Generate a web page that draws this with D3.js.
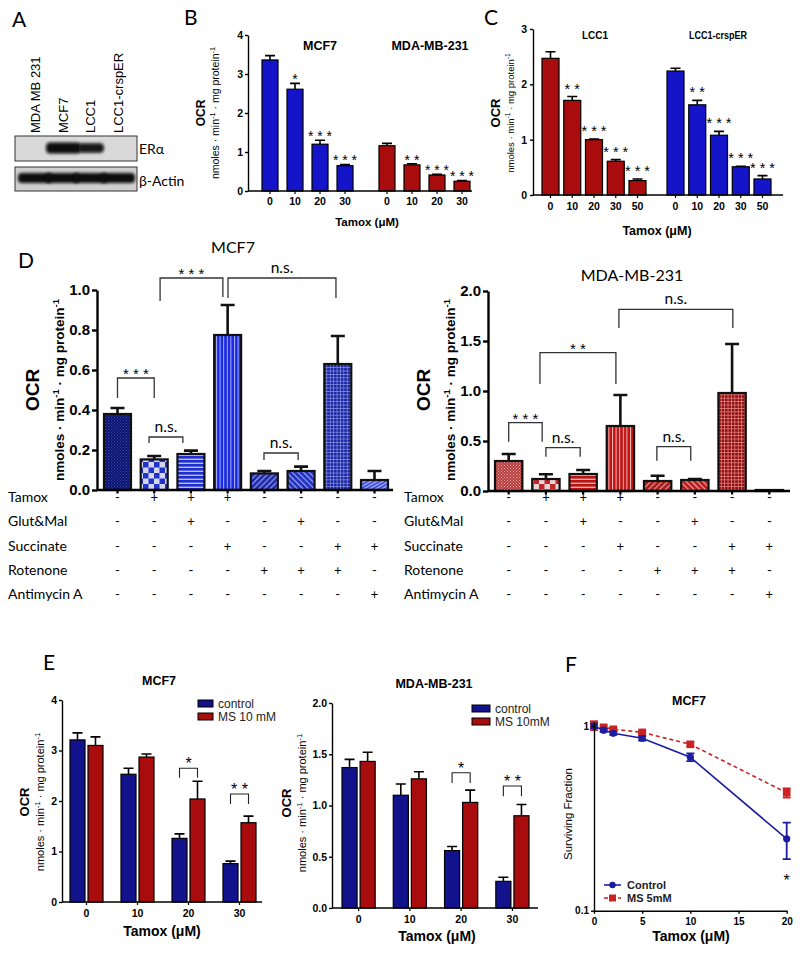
<!DOCTYPE html>
<html>
<head>
<meta charset="utf-8">
<script src="https://cdn.jsdelivr.net/npm/d3@7"></script>
<style>
  body { margin: 0; background: #fff; }
</style>
</head>
<body>
<script>
// ---------- data ----------
const blotLanes = ['MDA MB 231', 'MCF7', 'LCC1', 'LCC1-crspER'];
const erBand = [0, 1, 0.75, 0];
const actinBand = [0.9, 0.95, 0.9, 0.85];

const bLines = ['MCF7', 'MDA-MB-231'];
const bDoses = ['0', '10', '20', '30'];
const bMean = [[3.36, 2.61, 1.20, 0.65], [1.16, 0.67, 0.41, 0.25]];
const bErr = [[0.11, 0.15, 0.10, 0.03], [0.06, 0.03, 0.02, 0.02]];
const bStars = [['', '*', '***', '***'], ['', '**', '***', '***']];

const cLines = ['LCC1', 'LCC1-crspER'];
const cDoses = ['0', '10', '20', '30', '50'];
const cMean = [[2.47, 1.71, 1.00, 0.61, 0.26], [2.24, 1.63, 1.08, 0.51, 0.29]];
const cErr = [[0.12, 0.07, 0.01, 0.03, 0.03], [0.05, 0.08, 0.07, 0.01, 0.06]];
const cStars = [['', '**', '***', '***', '***'], ['', '**', '***', '***', '***']];

const dConds = ['c1', 'c2', 'c3', 'c4', 'c5', 'c6', 'c7', 'c8'];
const dRows = ['Tamox', 'Glut&Mal', 'Succinate', 'Rotenone', 'Antimycin A'];
const dSigns = [
  ['-', '+', '+', '+', '-', '-', '-', '-'],
  ['-', '-', '+', '-', '-', '+', '-', '-'],
  ['-', '-', '-', '+', '-', '-', '+', '+'],
  ['-', '-', '-', '-', '+', '+', '+', '-'],
  ['-', '-', '-', '-', '-', '-', '-', '+']
];
const dMcfMean = [0.38, 0.153, 0.18, 0.775, 0.083, 0.095, 0.63, 0.05];
const dMcfErr = [0.03, 0.017, 0.017, 0.15, 0.012, 0.022, 0.14, 0.045];
const dMdaMean = [0.30, 0.12, 0.17, 0.65, 0.10, 0.11, 0.98, 0.01];
const dMdaErr = [0.07, 0.047, 0.04, 0.31, 0.053, 0.01, 0.49, 0];
// [from bar, to bar, top, left leg end, right leg end, label]
const dMcfBrackets = [
  [0, 1, 0.56, 0.46, 0.46, '***'],
  [0.86, 1.78, 0.265, 0.235, 0.235, 'n.s.'],
  [1.16, 2.87, 1.06, 0.945, 0.965, '***'],
  [3.01, 5.95, 1.06, 0.96, 0.96, 'n.s.'],
  [3.99, 4.92, 0.185, 0.15, 0.15, 'n.s.']
];
const dMdaBrackets = [
  [0, 0.9, 0.683, 0.493, 0.493, '***'],
  [1.0, 1.92, 0.433, 0.343, 0.343, 'n.s.'],
  [0.84, 2.88, 1.383, 1.07, 1.07, '**'],
  [2.96, 6.02, 1.817, 1.63, 1.63, 'n.s.'],
  [3.98, 4.89, 0.443, 0.303, 0.303, 'n.s.']
];

const eDoses = ['0', '10', '20', '30'];
const eConds = ['control', 'MS'];
const eMcfMean = [[3.21, 3.10], [2.53, 2.87], [1.26, 2.04], [0.76, 1.57]];
const eMcfErr = [[0.14, 0.17], [0.12, 0.06], [0.09, 0.35], [0.05, 0.13]];
const eMcfSig = [{dose: '20', top: 2.65, leg: 2.46, label: '*'}, {dose: '30', top: 2.14, leg: 1.94, label: '**'}];
const eMdaMean = [[1.37, 1.43], [1.10, 1.26], [0.56, 1.03], [0.26, 0.90]];
const eMdaErr = [[0.08, 0.09], [0.11, 0.07], [0.04, 0.12], [0.04, 0.11]];
const eMdaSig = [{dose: '20', top: 1.32, leg: 1.22, label: '*'}, {dose: '30', top: 1.19, leg: 1.09, label: '**'}];

const fDose = [0, 1, 2, 5, 10, 20];
const fCtrl = [1.0, 0.95, 0.913, 0.858, 0.677, 0.245];
const fCtrlLo = [0.97, 0.93, 0.895, 0.835, 0.645, 0.19];
const fCtrlHi = [1.03, 0.97, 0.93, 0.88, 0.71, 0.30];
const fMs = [1.02, 0.984, 0.96, 0.924, 0.796, 0.435];
const fMsLo = [0.95, 0.965, 0.94, 0.905, 0.775, 0.41];
const fMsHi = [1.06, 1.005, 0.98, 0.945, 0.82, 0.46];

// ---------- setup ----------
const AR = '"Liberation Sans", Arial, sans-serif';
const CAL = 'Lato, "Open Sans", sans-serif';
const BLUE = '#1414c8', RED = '#a80c0c', NAVY = '#12128c';

const svg = d3.select('body').append('svg')
    .attr('width', 800)
    .attr('height', 953)
    .style('background', '#fff');
const defs = svg.append('defs');

function letter(t, x, y) {
  svg.append('text').attr('x', x).attr('y', y)
      .attr('font-family', CAL).attr('font-size', 21).text(t);
}

function styleAxis(a, size, weight, sw) {
  a.attr('font-family', AR).attr('font-size', size).attr('font-weight', weight);
  a.selectAll('line').attr('stroke', '#000').attr('stroke-width', sw);
  a.selectAll('path').attr('stroke', '#000').attr('stroke-width', sw);
  a.selectAll('text').attr('fill', '#000');
}

// rotated OCR label + unit line with superscripts
function ocrLabel(o) {
  svg.append('text')
      .attr('transform', `translate(${o.x1},${o.yc}) rotate(-90)`)
      .attr('text-anchor', 'middle').attr('font-family', AR)
      .attr('font-size', o.s1).attr('font-weight', 'bold').text('OCR');
  const t2 = svg.append('text')
      .attr('transform', `translate(${o.x2},${o.yc}) rotate(-90)`)
      .attr('text-anchor', 'middle').attr('font-family', AR)
      .attr('font-size', o.s2).attr('font-weight', o.w2);
  const sup = o.s2 * 0.4;
  t2.append('tspan').text('nmoles · min');
  t2.append('tspan').attr('dy', -sup).attr('font-size', o.s2 * 0.7).text('-1');
  t2.append('tspan').attr('dy', sup).text(' · mg protein');
  t2.append('tspan').attr('dy', -sup).attr('font-size', o.s2 * 0.7).text('-1');
}

const spaced = s => s.split('').join(' ');

// ---------- A: western blot ----------
letter('A', 12, 27);
const laneX = d3.scalePoint().domain(blotLanes).range([35, 118]);
const gA = svg.append('g');
gA.selectAll('text.lane').data(blotLanes).join('text')
    .attr('transform', d => `translate(${laneX(d) + 5},133) rotate(-90)`)
    .attr('font-family', AR).attr('font-size', 13).text(d => d);

defs.append('filter').attr('id', 'blur').attr('x', '-30%').attr('y', '-60%')
    .attr('width', '160%').attr('height', '220%')
    .append('feGaussianBlur').attr('stdDeviation', 1.4);

const blots = [
  {label: 'ERα', y: 136, h: 25, band: erBand, by: 148, bh: 11, fill: '#d9d9d9', ly: 154},
  {label: 'β-Actin', y: 167, h: 24, band: actinBand, by: 178, bh: 10, fill: '#cfcfcf', ly: 186}
];
blots.forEach((b, bi) => {
  const clipId = 'blotclip' + bi;
  defs.append('clipPath').attr('id', clipId).append('rect')
      .attr('x', 15).attr('y', b.y).attr('width', 122).attr('height', b.h);
  gA.append('rect').attr('x', 15).attr('y', b.y).attr('width', 122).attr('height', b.h)
      .attr('fill', b.fill);
  const gb = gA.append('g').attr('clip-path', `url(#${clipId})`);
  const w = d => bi === 0 ? 40 * d.v - 5 : 34;
  const h = d => bi === 0 ? b.bh * (0.5 + d.v / 2) : b.bh;
  gb.selectAll('rect').data(blotLanes.map((l, i) => ({l, v: b.band[i]})).filter(d => d.v > 0)).join('rect')
      .attr('x', d => laneX(d.l) - w(d) / 2 + (bi === 0 ? 1 : 0))
      .attr('y', d => b.by - h(d) / 2)
      .attr('width', w)
      .attr('height', h)
      .attr('rx', 4)
      .attr('fill', '#080808').attr('fill-opacity', d => Math.min(1, d.v + 0.2))
      .attr('filter', 'url(#blur)');
  gA.append('rect').attr('x', 15).attr('y', b.y).attr('width', 122).attr('height', b.h)
      .attr('fill', 'none').attr('stroke', '#333').attr('stroke-width', 1);
  gA.append('text').attr('x', 139).attr('y', b.ly).attr('font-family', CAL)
      .attr('font-size', 14).text(b.label);
});

// ---------- grouped bar helper (B, C, E) ----------
function grouped(o) {
  const g = svg.append('g');
  const x0 = d3.scaleBand().domain(o.groups).range(o.range).paddingInner(o.padG);
  const x1 = d3.scaleBand().domain(o.keys).range([0, x0.bandwidth()]).paddingInner(o.padB);
  const y = o.y;
  const cells = [];
  o.groups.forEach((gr, gi) => o.keys.forEach((k, ki) =>
    cells.push({gr, k, gi, ki, v: o.mean[gi][ki], e: o.err[gi][ki]})));
  const cx = d => x0(d.gr) + x1(d.k) + x1.bandwidth() / 2;
  g.selectAll('path.eb').data(cells).join('path')
      .attr('d', d => `M${cx(d)},${y(d.v)}V${y(d.v + d.e)}M${cx(d) - o.cap / 2},${y(d.v + d.e)}h${o.cap}`)
      .attr('stroke', '#000').attr('stroke-width', o.ebw).attr('fill', 'none');
  g.selectAll('rect.bar').data(cells).join('rect')
      .attr('x', d => x0(d.gr) + x1(d.k))
      .attr('y', d => y(d.v))
      .attr('width', x1.bandwidth())
      .attr('height', d => y(0) - y(d.v))
      .attr('fill', o.color).attr('stroke', '#000').attr('stroke-width', o.sw);
  return {g, x0, x1, cx, cells};
}

// ---------- B ----------
letter('B', 184, 25);
const yB = d3.scaleLinear().domain([0, 4]).range([191, 35]);
const pB = grouped({
  groups: bLines, keys: bDoses, mean: bMean, err: bErr, y: yB,
  range: [262, 470], padG: 0.222, padB: 0.36, cap: 10, ebw: 1.6, sw: 1.2,
  color: d => d.gi === 0 ? BLUE : RED
});
pB.g.selectAll('text.star').data(pB.cells.filter(d => bStars[d.gi][d.ki])).join('text')
    .attr('x', pB.cx).attr('y', d => yB(d.v + d.e) + 1)
    .attr('text-anchor', 'middle').attr('font-family', AR).attr('font-size', 14)
    .text(d => spaced(bStars[d.gi][d.ki]));
svg.append('g').attr('transform', 'translate(248,0)')
    .call(d3.axisLeft(yB).tickValues([0, 1, 2, 3, 4]).tickFormat(d3.format('d')).tickSize(3).tickSizeOuter(0).tickPadding(2))
    .call(a => styleAxis(a, 10.5, 'bold', 1.4));
bLines.forEach(l => {
  svg.append('g').attr('transform', `translate(${pB.x0(l)},191)`)
      .call(d3.axisBottom(pB.x1).tickSize(3).tickPadding(4))
      .call(a => a.select('.domain').remove())
      .call(a => styleAxis(a, 10.5, 'bold', 1.2));
});
svg.append('line').attr('x1', 248).attr('x2', 472).attr('y1', 191).attr('y2', 191)
    .attr('stroke', '#000').attr('stroke-width', 1.4);
svg.selectAll('text.bl').data(bLines).join('text')
    .attr('x', (d, i) => i === 0 ? 320 : 430).attr('y', 50)
    .attr('text-anchor', 'middle').attr('font-family', AR).attr('font-size', 12.5)
    .attr('font-weight', 'bold').text(d => d);
svg.append('text').attr('x', 367).attr('y', 226).attr('text-anchor', 'middle')
    .attr('font-family', AR).attr('font-size', 11.5).attr('font-weight', 'bold').text('Tamox (μM)');
ocrLabel({x1: 205, x2: 219, yc: 113, s1: 12, s2: 10.5, w2: 'normal'});

// ---------- C ----------
letter('C', 484, 25);
const yC = d3.scaleLinear().domain([0, 3]).range([195, 29]);
const pC = grouped({
  groups: cLines, keys: cDoses, mean: cMean, err: cErr, y: yC,
  range: [542, 771], padG: 0.168, padB: 0.218, cap: 10, ebw: 1.6, sw: 1.2,
  color: d => d.gi === 0 ? RED : BLUE
});
pC.g.selectAll('text.star').data(pC.cells.filter(d => cStars[d.gi][d.ki])).join('text')
    .attr('x', pC.cx).attr('y', d => yC(d.v + d.e) - 3)
    .attr('text-anchor', 'middle').attr('font-family', AR).attr('font-size', 14.5)
    .text(d => spaced(cStars[d.gi][d.ki]));
svg.append('g').attr('transform', 'translate(533,0)')
    .call(d3.axisLeft(yC).tickValues([0, 1, 2, 3]).tickFormat(d3.format('d')).tickSize(3).tickSizeOuter(0).tickPadding(3))
    .call(a => styleAxis(a, 10.5, 'bold', 1.4));
cLines.forEach(l => {
  svg.append('g').attr('transform', `translate(${pC.x0(l)},195)`)
      .call(d3.axisBottom(pC.x1).tickSize(3).tickPadding(5))
      .call(a => a.select('.domain').remove())
      .call(a => styleAxis(a, 10.5, 'bold', 1.2));
});
svg.append('line').attr('x1', 533).attr('x2', 783).attr('y1', 195).attr('y2', 195)
    .attr('stroke', '#000').attr('stroke-width', 1.4);
svg.selectAll('text.cl').data(cLines).join('text')
    .attr('x', (d, i) => i === 0 ? 595 : 718).attr('y', 39)
    .attr('text-anchor', 'middle').attr('font-family', AR).attr('font-size', 11.5)
    .attr('font-weight', 'bold')
    .attr('textLength', (d, i) => i === 0 ? 26 : 58).attr('lengthAdjust', 'spacingAndGlyphs')
    .text(d => d);
svg.append('text').attr('x', 657).attr('y', 235).attr('text-anchor', 'middle')
    .attr('font-family', AR).attr('font-size', 12.5).attr('font-weight', 'bold').text('Tamox (μM)');
ocrLabel({x1: 500, x2: 514, yc: 113, s1: 13, s2: 9.5, w2: 'normal'});

// ---------- D: patterns ----------
function makePattern(id, kind, dark, light) {
  const p = defs.append('pattern').attr('id', id).attr('patternUnits', 'userSpaceOnUse');
  const rect = (x, y, w, h, c) => p.append('rect').attr('x', x).attr('y', y)
      .attr('width', w).attr('height', h).attr('fill', c);
  if (kind === 'dense') {
    p.attr('width', 3).attr('height', 3);
    rect(0, 0, 3, 3, dark); rect(0, 0, 1, 1, light); rect(1.5, 1.5, 1, 1, light);
  } else if (kind === 'checker') {
    p.attr('width', 11).attr('height', 11);
    rect(0, 0, 11, 11, light); rect(0, 0, 5.5, 5.5, dark); rect(5.5, 5.5, 5.5, 5.5, dark);
  } else if (kind === 'hstripe') {
    p.attr('width', 4).attr('height', 4);
    rect(0, 0, 4, 4, light); rect(0, 0, 4, 2.6, dark);
  } else if (kind === 'vstripe') {
    p.attr('width', 3.6).attr('height', 4);
    rect(0, 0, 3.6, 4, dark); rect(0, 0, 1, 4, light);
  } else if (kind === 'diagA' || kind === 'diagB') {
    p.attr('width', 4).attr('height', 4)
        .attr('patternTransform', kind === 'diagA' ? 'rotate(45)' : 'rotate(-45)');
    rect(0, 0, 4, 4, dark); rect(0, 0, 1.2, 4, light);
  } else if (kind === 'grid') {
    p.attr('width', 3.4).attr('height', 3.4);
    rect(0, 0, 3.4, 3.4, dark); rect(0, 0, 3.4, 0.8, light); rect(0, 0, 0.8, 3.4, light);
  } else if (kind === 'zig') {
    p.attr('width', 3).attr('height', 3).attr('patternTransform', 'rotate(60)');
    rect(0, 0, 3, 3, light); rect(0, 0, 1.5, 3, dark);
  }
}
const dKinds = ['dense', 'checker', 'hstripe', 'vstripe', 'diagA', 'diagB', 'grid', 'zig'];
const dBlueDark = ['#0c1470', '#2233cc', '#1f2fd0', '#1a2ae0', '#1e2aa8', '#2030c0', '#1a26a0', '#2b3ad8'];
const dBlueLight = ['#3a4aa8', '#d4d6ee', '#b8bff0', '#a8b0f8', '#8e98e8', '#9aa2ec', '#7f8ae0', '#a8b2f4'];
const dRedDark = ['#b63a3a', '#c02828', '#b81414', '#c01414', '#a81818', '#b81c1c', '#8c1010', '#c03030'];
const dRedLight = ['#eeb4b4', '#e8d4d4', '#f0a8a8', '#f4b8b8', '#e89494', '#f0a0a0', '#e48080', '#f0b0b0'];
dKinds.forEach((k, i) => {
  makePattern('pb' + i, k, dBlueDark[i], dBlueLight[i]);
  makePattern('pr' + i, k, dRedDark[i], dRedLight[i]);
});

// ---------- D: panels ----------
function panelD(o) {
  const g = svg.append('g');
  const x = d3.scaleBand().domain(dConds).range(o.range).paddingInner(0.265);
  const y = d3.scaleLinear().domain(o.yDomain).range([o.y0, o.y1]);
  const cxs = dConds.map(c => x(c) + x.bandwidth() / 2);
  const xi = d3.scaleLinear().domain([0, dConds.length - 1]).range([cxs[0], cxs[cxs.length - 1]]);
  const bars = dConds.map((c, i) => ({c, i, v: o.mean[i], e: o.err[i]}));
  g.selectAll('path.eb').data(bars.filter(d => d.e > 0)).join('path')
      .attr('d', d => `M${cxs[d.i]},${y(d.v)}V${y(d.v + d.e)}M${cxs[d.i] - 7},${y(d.v + d.e)}h14`)
      .attr('stroke', '#111').attr('stroke-width', 2.6).attr('fill', 'none');
  g.selectAll('rect.bar').data(bars).join('rect')
      .attr('x', d => x(d.c)).attr('y', d => y(d.v))
      .attr('width', x.bandwidth()).attr('height', d => y(0) - y(d.v))
      .attr('fill', d => `url(#${o.prefix}${d.i})`)
      .attr('stroke', '#111').attr('stroke-width', 2.2);
  // axes
  g.append('g').attr('transform', `translate(${o.axisX},0)`)
      .call(d3.axisLeft(y).tickValues(o.ticks).tickFormat(d3.format('.1f')).tickSize(5).tickSizeOuter(0).tickPadding(2))
      .call(a => styleAxis(a, 15, 'bold', 2.4));
  g.append('g').attr('transform', `translate(0,${o.y0})`)
      .call(d3.axisBottom(x).tickSize(3.5).tickFormat(''))
      .call(a => a.select('.domain').remove())
      .call(a => styleAxis(a, 10, 'bold', 2.2));
  g.append('line').attr('x1', o.axisX).attr('x2', o.axisEnd).attr('y1', o.y0).attr('y2', o.y0)
      .attr('stroke', '#000').attr('stroke-width', 2.4);
  // brackets
  o.brackets.forEach(b => {
    const xa = xi(b[0]), xb = xi(b[1]);
    const ns = b[5] === 'n.s.';
    g.append('path').attr('d', `M${xa},${y(b[3])}V${y(b[2])}H${xb}V${y(b[4])}`)
        .attr('fill', 'none').attr('stroke', '#333').attr('stroke-width', 1.3);
    g.append('text').attr('x', (xa + xb) / 2).attr('y', y(b[2]) + (ns ? -5 : 1))
        .attr('text-anchor', 'middle').attr('font-family', ns ? CAL : AR)
        .attr('font-size', ns ? 15.5 : 15)
        .text(ns ? 'n.s.' : spaced(b[5]));
  });
  // condition table
  dRows.forEach((r, ri) => {
    const yy = 502 + ri * 24.3;
    g.append('text').attr('x', o.labelX).attr('y', yy).attr('font-family', CAL)
        .attr('font-size', 14).text(r);
    g.selectAll(null).data(dSigns[ri]).join('text')
        .attr('x', (d, i) => cxs[i]).attr('y', yy)
        .attr('text-anchor', 'middle').attr('font-family', CAL).attr('font-size', 13)
        .text(d => d);
  });
  g.append('text').attr('x', o.titleX).attr('y', o.titleY).attr('text-anchor', 'middle')
      .attr('font-family', CAL).attr('font-size', 16).text(o.title);
  ocrLabel({x1: o.ocrX, x2: o.ocrX + 25, yc: 390, s1: 19, s2: 13.5, w2: 'bold'});
}
letter('D', 18, 268);
panelD({
  range: [104, 388], yDomain: [0, 1], y0: 490, y1: 290, ticks: [0, 0.2, 0.4, 0.6, 0.8, 1.0],
  mean: dMcfMean, err: dMcfErr, prefix: 'pb', axisX: 97, axisEnd: 393,
  brackets: dMcfBrackets, labelX: 8, title: 'MCF7', titleX: 233, titleY: 253, ocrX: 39
});
panelD({
  range: [495, 783], yDomain: [0, 2], y0: 491, y1: 291, ticks: [0, 0.5, 1.0, 1.5, 2.0],
  mean: dMdaMean, err: dMdaErr, prefix: 'pr', axisX: 488, axisEnd: 790,
  brackets: dMdaBrackets, labelX: 404, title: 'MDA-MB-231', titleX: 632, titleY: 281, ocrX: 430
});

// ---------- E ----------
function panelE(o) {
  const p = grouped({
    groups: eDoses, keys: eConds, mean: o.mean, err: o.err, y: o.y,
    range: o.range, padG: 0.353, padB: 0.167, cap: 10, ebw: 1.6, sw: 1.2,
    color: d => d.ki === 0 ? NAVY : RED
  });
  o.sig.forEach(s => {
    const xa = p.x0(s.dose) + p.x1('control') + p.x1.bandwidth() / 2;
    const xb = p.x0(s.dose) + p.x1('MS') + p.x1.bandwidth() / 2;
    p.g.append('path').attr('d', `M${xa},${o.y(s.leg)}V${o.y(s.top)}H${xb}V${o.y(s.leg)}`)
        .attr('fill', 'none').attr('stroke', '#222').attr('stroke-width', 1.1);
    p.g.append('text').attr('x', (xa + xb) / 2).attr('y', o.y(s.top) + 1)
        .attr('text-anchor', 'middle').attr('font-family', AR).attr('font-size', 16)
        .text(spaced(s.label));
  });
  svg.append('g').attr('transform', `translate(${o.axisX},0)`)
      .call(d3.axisLeft(o.y).tickValues(o.ticks).tickFormat(o.fmt).tickSize(3).tickSizeOuter(0).tickPadding(2))
      .call(a => styleAxis(a, 10.5, 'bold', 1.4));
  svg.append('g').attr('transform', `translate(0,${o.y(0)})`)
      .call(d3.axisBottom(p.x0).tickSize(3).tickPadding(5))
      .call(a => a.select('.domain').remove())
      .call(a => styleAxis(a, 10.5, 'bold', 1.2));
  svg.append('line').attr('x1', o.axisX).attr('x2', o.axisEnd).attr('y1', o.y(0)).attr('y2', o.y(0))
      .attr('stroke', '#000').attr('stroke-width', 1.4);
  svg.append('text').attr('x', o.titleX).attr('y', o.titleY).attr('text-anchor', 'middle')
      .attr('font-family', AR).attr('font-size', 12.5).attr('font-weight', 'bold').text(o.title);
  svg.append('text').attr('x', o.titleX + 3).attr('y', o.xtY).attr('text-anchor', 'middle')
      .attr('font-family', AR).attr('font-size', 14).attr('font-weight', 'bold').text('Tamox (μM)');
  const leg = svg.append('g');
  o.legend.forEach((t, i) => {
    leg.append('rect').attr('x', o.legX).attr('y', o.legY + i * 13).attr('width', o.legW).attr('height', 7)
        .attr('fill', i === 0 ? NAVY : RED).attr('stroke', '#000').attr('stroke-width', 1);
    leg.append('text').attr('x', o.legX + o.legW + 5).attr('y', o.legY + i * 13 + 7.5)
        .attr('font-family', AR).attr('font-size', 12).attr('fill', '#222').text(t);
  });
  ocrLabel({x1: o.ocrX, x2: o.ocrX + 15, yc: o.ocrY, s1: 13, s2: 11, w2: 'normal'});
}
letter('E', 43, 670);
panelE({
  mean: eMcfMean, err: eMcfErr, sig: eMcfSig, y: d3.scaleLinear().domain([0, 4]).range([902, 700]),
  range: [70, 256], ticks: [0, 1, 2, 3, 4], fmt: d3.format('d'), axisX: 62, axisEnd: 262,
  title: 'MCF7', titleX: 159, titleY: 685, xtY: 936,
  legend: ['control', 'MS 10 mM'], legX: 198, legY: 700, legW: 15, ocrX: 29, ocrY: 802
});
panelE({
  mean: eMdaMean, err: eMdaErr, sig: eMdaSig, y: d3.scaleLinear().domain([0, 2]).range([908, 703]),
  range: [342, 529], ticks: [0, 0.5, 1.0, 1.5, 2.0], fmt: d3.format('.1f'), axisX: 332, axisEnd: 538,
  title: 'MDA-MB-231', titleX: 434, titleY: 688, xtY: 941,
  legend: ['control', 'MS 10mM'], legX: 472, legY: 705, legW: 18, ocrX: 291, ocrY: 803
});

// ---------- F ----------
letter('F', 565, 672);
const xF = d3.scaleLinear().domain([0, 20]).range([594, 786.7]);
const yF = d3.scaleLog().domain([0.1, 1.05]).range([910.7, 722.1]);
const gF = svg.append('g');
const series = [
  {name: 'Control', v: fCtrl, lo: fCtrlLo, hi: fCtrlHi, color: '#1c1ca0', dash: null, marker: 'circle'},
  {name: 'MS 5mM', v: fMs, lo: fMsLo, hi: fMsHi, color: '#cc2222', dash: '4,3', marker: 'square'}
];
const lineF = d3.line().x(d => xF(d.x)).y(d => yF(d.v));
series.slice().reverse().forEach(s => {
  const pts = fDose.map((x, i) => ({x, v: s.v[i], lo: s.lo[i], hi: s.hi[i]}));
  gF.append('path').datum(pts).attr('d', lineF).attr('fill', 'none')
      .attr('stroke', s.color).attr('stroke-width', 1.6).attr('stroke-dasharray', s.dash);
  gF.selectAll(null).data(pts).join('path')
      .attr('d', d => `M${xF(d.x)},${yF(d.lo)}V${yF(d.hi)}M${xF(d.x) - 4},${yF(d.lo)}h8M${xF(d.x) - 4},${yF(d.hi)}h8`)
      .attr('stroke', s.color).attr('stroke-width', 1.8).attr('fill', 'none');
  if (s.marker === 'circle') {
    gF.selectAll(null).data(pts).join('circle')
        .attr('cx', d => xF(d.x)).attr('cy', d => yF(d.v)).attr('r', 3.6).attr('fill', s.color);
  } else {
    gF.selectAll(null).data(pts).join('rect')
        .attr('x', d => xF(d.x) - 3.8).attr('y', d => yF(d.v) - 3.8)
        .attr('width', 7.6).attr('height', 7.6).attr('fill', s.color);
  }
});
svg.append('g').attr('transform', 'translate(594,0)')
    .call(d3.axisLeft(yF).tickValues([0.1, 1]).tickFormat(d => d === 1 ? '1' : '0.1').tickSize(3).tickSizeOuter(0).tickPadding(2))
    .call(a => styleAxis(a, 10, 'bold', 1.4));
svg.append('g').attr('transform', 'translate(0,910.7)')
    .call(d3.axisBottom(xF).tickValues([0, 5, 10, 15, 20]).tickSize(3).tickSizeOuter(0).tickPadding(4))
    .call(a => styleAxis(a, 10, 'bold', 1.4));
svg.append('text').attr('x', 689).attr('y', 705).attr('text-anchor', 'middle')
    .attr('font-family', AR).attr('font-size', 12.5).attr('font-weight', 'bold').text('MCF7');
svg.append('text').attr('x', 691).attr('y', 941).attr('text-anchor', 'middle')
    .attr('font-family', AR).attr('font-size', 14).attr('font-weight', 'bold').text('Tamox (μM)');
svg.append('text').attr('transform', 'translate(572,814) rotate(-90)').attr('text-anchor', 'middle')
    .attr('font-family', AR).attr('font-size', 11.5).text('Surviving Fraction');
svg.append('text').attr('x', xF(20)).attr('y', 886).attr('text-anchor', 'middle')
    .attr('font-family', AR).attr('font-size', 16).text('*');
series.forEach((s, i) => {
  const ly = 885 + i * 13;
  svg.append('line').attr('x1', 604).attr('x2', 621).attr('y1', ly).attr('y2', ly)
      .attr('stroke', s.color).attr('stroke-width', 1.6).attr('stroke-dasharray', s.dash);
  if (s.marker === 'circle') {
    svg.append('circle').attr('cx', 612.5).attr('cy', ly).attr('r', 3.2).attr('fill', s.color);
  } else {
    svg.append('rect').attr('x', 609).attr('y', ly - 3.5).attr('width', 7).attr('height', 7).attr('fill', s.color);
  }
  svg.append('text').attr('x', 627).attr('y', ly + 4).attr('font-family', AR)
      .attr('font-size', 11).attr('font-weight', 'bold').attr('fill', '#222').text(s.name);
});
</script>
</body>
</html>
